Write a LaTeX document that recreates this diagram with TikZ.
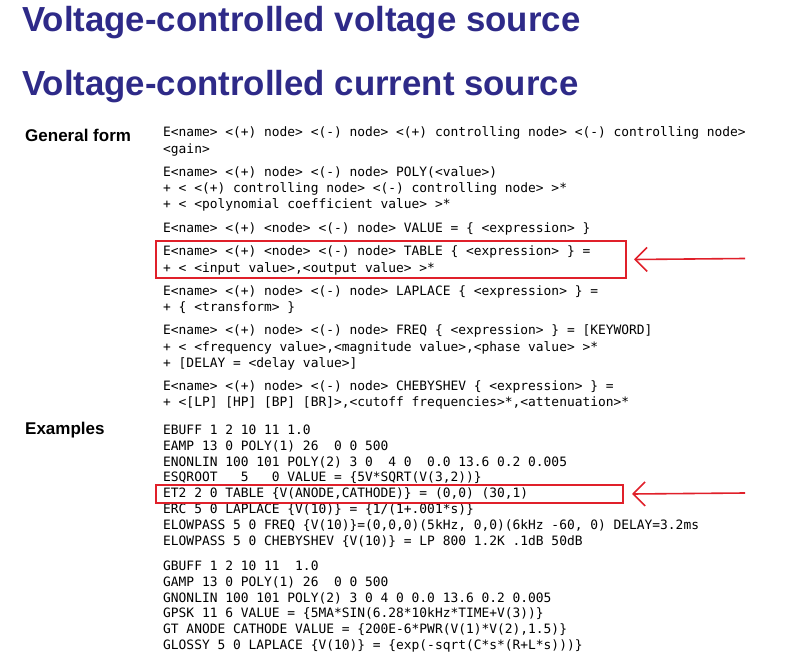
\documentclass[tikz,border=0pt]{standalone}
\usepackage{fontspec}
\usetikzlibrary{arrows.meta}
\setmainfont{Liberation Sans}
\newfontfamily\codefont{DejaVu Sans Mono}
\begin{document}
\begin{tikzpicture}[x=1pt,y=-1pt,
  title/.style={anchor=west,inner sep=0pt,text=titleblue,font=\fontsize{34.8}{36}\selectfont\bfseries},
  lab/.style={anchor=west,inner sep=0pt,font=\fontsize{17}{18}\selectfont\bfseries},
  code/.style={anchor=west,inner sep=0pt,font=\codefont\fontsize{12.9}{13}\selectfont},
  hl/.style={draw=hlred,line width=2pt},
  hlarrow/.style={draw=hlred,line width=1.6pt,-{Straight Barb[length=12pt,width=24pt,line width=1.6pt]}}]
\definecolor{titleblue}{HTML}{2E2A88}
\definecolor{hlred}{HTML}{E0202A}
\useasboundingbox (0,0) rectangle (800,660);
\node[title] (t1) at (22,23) {Voltage-controlled voltage source};
\node[title] (t2) at (22,87) {Voltage-controlled current source};
\node[lab] (gf) at (25,135) {General form};
\node[lab] (ex) at (25,430) {Examples};
\node[code] (a1) at (163,133) {E<name> <(+) node> <(-) node> <(+) controlling node> <(-) controlling node>};
\node[code] (a2) at (163,150) {<gain>};
\node[code] (b1) at (163,172) {E<name> <(+) node> <(-) node> POLY(<value>)};
\node[code] (b2) at (163,189) {+ < <(+) controlling node> <(-) controlling node> >*};
\node[code] (b3) at (163,205) {+ < <polynomial coefficient value> >*};
\node[code] (c1) at (163,229) {E<name> <(+) <node> <(-) node> VALUE = \{ <expression> \}};
\node[code] (d1) at (163,252) {E<name> <(+) <node> <(-) node> TABLE \{ <expression> \} =};
\node[code] (d2) at (163,269) {+ < <input value>,<output value> >*};
\node[code] (e1) at (163,292) {E<name> <(+) node> <(-) node> LAPLACE \{ <expression> \} =};
\node[code] (e2) at (163,308) {+ \{ <transform> \}};
\node[code] (f1) at (163,331) {E<name> <(+) node> <(-) node> FREQ \{ <expression> \} = [KEYWORD]};
\node[code] (f2) at (163,348) {+ < <frequency value>,<magnitude value>,<phase value> >*};
\node[code] (f3) at (163,364) {+ [DELAY = <delay value>]};
\node[code] (g1) at (163,387) {E<name> <(+) node> <(-) node> CHEBYSHEV \{ <expression> \} =};
\node[code] (g2) at (163,403) {+ <[LP] [HP] [BP] [BR]>,<cutoff frequencies>*,<attenuation>*};
\node[code] (x1) at (163,430) {EBUFF 1 2 10 11 1.0};
\node[code] (x2) at (163,446) {EAMP 13 0 POLY(1) 26\ \ 0 0 500};
\node[code] (x3) at (163,462) {ENONLIN 100 101 POLY(2) 3 0\ \ 4 0\ \ 0.0 13.6 0.2 0.005};
\node[code] (x4) at (163,478) {ESQROOT\ \ \ 5\ \ \ 0 VALUE = \{5V*SQRT(V(3,2))\}};
\node[code] (x5) at (163,494) {ET2 2 0 TABLE \{V(ANODE,CATHODE)\} = (0,0) (30,1)};
\node[code] (x6) at (163,510) {ERC 5 0 LAPLACE \{V(10)\} = \{1/(1+.001*s)\}};
\node[code] (x7) at (163,526) {ELOWPASS 5 0 FREQ \{V(10)\}=(0,0,0)(5kHz, 0,0)(6kHz -60, 0) DELAY=3.2ms};
\node[code] (x8) at (163,542) {ELOWPASS 5 0 CHEBYSHEV \{V(10)\} = LP 800 1.2K .1dB 50dB};
\node[code] (y1) at (163,566) {GBUFF 1 2 10 11\ \ 1.0};
\node[code] (y2) at (163,582) {GAMP 13 0 POLY(1) 26\ \ 0 0 500};
\node[code] (y3) at (163,598) {GNONLIN 100 101 POLY(2) 3 0 4 0 0.0 13.6 0.2 0.005};
\node[code] (y4) at (163,614) {GPSK 11 6 VALUE = \{5MA*SIN(6.28*10kHz*TIME+V(3))\}};
\node[code] (y5) at (163,630) {GT ANODE CATHODE VALUE = \{200E-6*PWR(V(1)*V(2),1.5)\}};
\node[code] (y6) at (163,646) {GLOSSY 5 0 LAPLACE \{V(10)\} = \{exp(-sqrt(C*s*(R+L*s)))\}};
\node[hl,inner sep=0pt,minimum width=470pt,minimum height=37pt,anchor=north west] (box1) at (155,240) {};
\node[hl,inner sep=0pt,minimum width=467pt,minimum height=18pt,anchor=north west] (box2) at (155,484) {};
\coordinate (s1) at (745,258.5);
\coordinate (s2) at (745,493);
\draw[hlarrow] (s1) -- ([xshift=7pt]box1.east);
\draw[hlarrow] (s2) -- ([xshift=8pt]box2.east);
\end{tikzpicture}
\end{document}
